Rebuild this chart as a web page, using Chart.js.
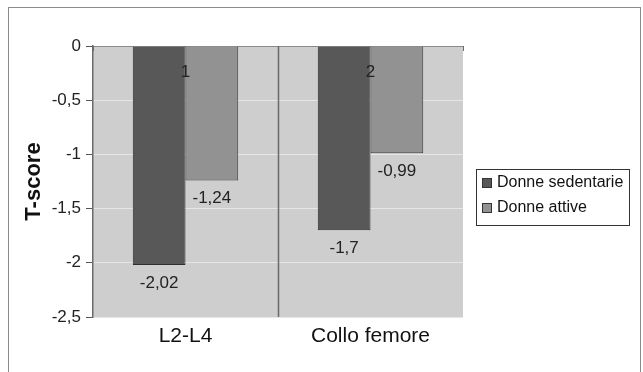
<!DOCTYPE html>
<html>
<head>
<meta charset="utf-8">
<script src="https://cdn.jsdelivr.net/npm/chart.js@4/dist/chart.umd.min.js"></script>
<style>
  html, body { margin: 0; padding: 0; background: #fff; }
  #wrap { width: 643px; height: 372px; position: relative; }
</style>
</head>
<body>
<div id="wrap"><canvas id="c" width="643" height="372"></canvas></div>
<script>
// T-score by skeletal site
const categories = ['L2-L4', 'Collo femore'];
const categoryMarks = ['1', '2'];
const seriesNames = ['Donne sedentarie', 'Donne attive'];
const sedentarie = [-2.02, -1.7];
const attive = [-1.24, -0.99];
const yTicks = [0, -0.5, -1, -1.5, -2, -2.5];

const FONT = '"Liberation Sans", Arial, sans-serif';
const DARK = '#585858';
const LIGHT = '#929292';
const PLOT_BG = '#cecece';

const fmt = v => String(v).replace('.', ',');

// white page, outer frame and grey plot area
const framePlugin = {
  id: 'frame',
  beforeDraw(chart) {
    const { ctx, chartArea: a } = chart;
    ctx.save();
    ctx.fillStyle = '#fff';
    ctx.fillRect(0, 0, chart.width, chart.height);
    ctx.strokeStyle = '#8c8c8c';
    ctx.lineWidth = 1;
    ctx.strokeRect(8.5, 7.5, 632, 372);
    ctx.fillStyle = PLOT_BG;
    ctx.fillRect(a.left, a.top, a.right - a.left, a.bottom - a.top);
    ctx.restore();
  }
};

// category separators, axis ticks at the zero line, value labels, category marks, legend
const overlayPlugin = {
  id: 'overlay',
  afterDatasetsDraw(chart) {
    const { ctx, chartArea: a, scales: { x, y } } = chart;
    ctx.save();
    const y0 = y.getPixelForValue(0);
    const n = categories.length;
    for (let i = 0; i <= n; i++) {
      const bx = Math.round(x.getPixelForValue(i - 0.5)) + 0.5;
      ctx.strokeStyle = '#6a6a6a';
      ctx.lineWidth = 1.5;
      if (i > 0 && i < n) {
        ctx.beginPath(); ctx.moveTo(bx, a.top); ctx.lineTo(bx, a.bottom); ctx.stroke();
      }
      ctx.lineWidth = 1;
      ctx.beginPath(); ctx.moveTo(bx, y0); ctx.lineTo(bx, y0 + 5); ctx.stroke();
    }

    // value labels below each bar
    ctx.fillStyle = '#222';
    ctx.font = '17px ' + FONT;
    ctx.textAlign = 'center';
    ctx.textBaseline = 'middle';
    chart.data.datasets.forEach((ds, di) => {
      chart.getDatasetMeta(di).data.forEach((bar, i) => {
        ctx.fillText(fmt(ds.data[i]), bar.x, bar.y + 18);
      });
    });

    // category index marks
    ctx.font = '17px ' + FONT;
    categoryMarks.forEach((m, i) => {
      ctx.fillText(m, x.getPixelForValue(i), a.top + 26);
    });

    // legend
    const lx = a.right + 13, ly = 169, lw = 153, lh = 56;
    ctx.strokeStyle = '#333';
    ctx.lineWidth = 1;
    ctx.strokeRect(lx + 0.5, ly + 0.5, lw, lh);
    ctx.font = '16px ' + FONT;
    ctx.textAlign = 'left';
    chart.data.datasets.forEach((ds, di) => {
      const cy = ly + 14 + di * 25;
      ctx.fillStyle = ds.backgroundColor;
      ctx.fillRect(lx + 6, cy - 5, 10, 10);
      ctx.strokeStyle = '#333';
      ctx.strokeRect(lx + 6.5, cy - 4.5, 9, 9);
      ctx.fillStyle = '#111';
      ctx.fillText(ds.label, lx + 21, cy);
    });
    ctx.restore();
  }
};

new Chart(document.getElementById('c'), {
  type: 'bar',
  data: {
    labels: categories,
    datasets: [
      { label: seriesNames[0], data: sedentarie, backgroundColor: DARK, borderColor: '#2e2e2e', borderWidth: 1 },
      { label: seriesNames[1], data: attive, backgroundColor: LIGHT, borderColor: '#3c3c3c', borderWidth: 1 }
    ]
  },
  options: {
    responsive: false,
    animation: false,
    devicePixelRatio: 1,
    layout: { padding: { top: 46, right: 180, bottom: 0, left: 0 } },
    datasets: { bar: { barPercentage: 1, categoryPercentage: 0.57 } },
    plugins: { legend: { display: false }, tooltip: { enabled: false } },
    scales: {
      x: {
        grid: { display: false, drawTicks: false },
        border: { display: false },
        ticks: { color: '#111', padding: 7, font: { family: FONT, size: 21 } },
        afterFit(s) { s.height = 55; }
      },
      y: {
        min: -2.5,
        max: 0,
        afterBuildTicks(s) { s.ticks = yTicks.map(v => ({ value: v })); },
        ticks: { color: '#222', padding: 5, font: { family: FONT, size: 17 }, callback: v => fmt(v) },
        grid: {
          color: c => (c.tick && c.tick.value === 0 ? '#8a8a8a' : '#e6e6e6'),
          tickColor: '#555',
          tickLength: 7,
          lineWidth: 1
        },
        border: { display: true, color: '#6a6a6a', width: 1.5 },
        title: {
          display: true,
          text: 'T-score',
          color: '#111',
          padding: { top: 21, bottom: 0 },
          font: { family: FONT, size: 22, weight: 'bold' }
        },
        afterFit(s) { s.width = 93; }
      }
    }
  },
  plugins: [framePlugin, overlayPlugin]
});
</script>
</body>
</html>
